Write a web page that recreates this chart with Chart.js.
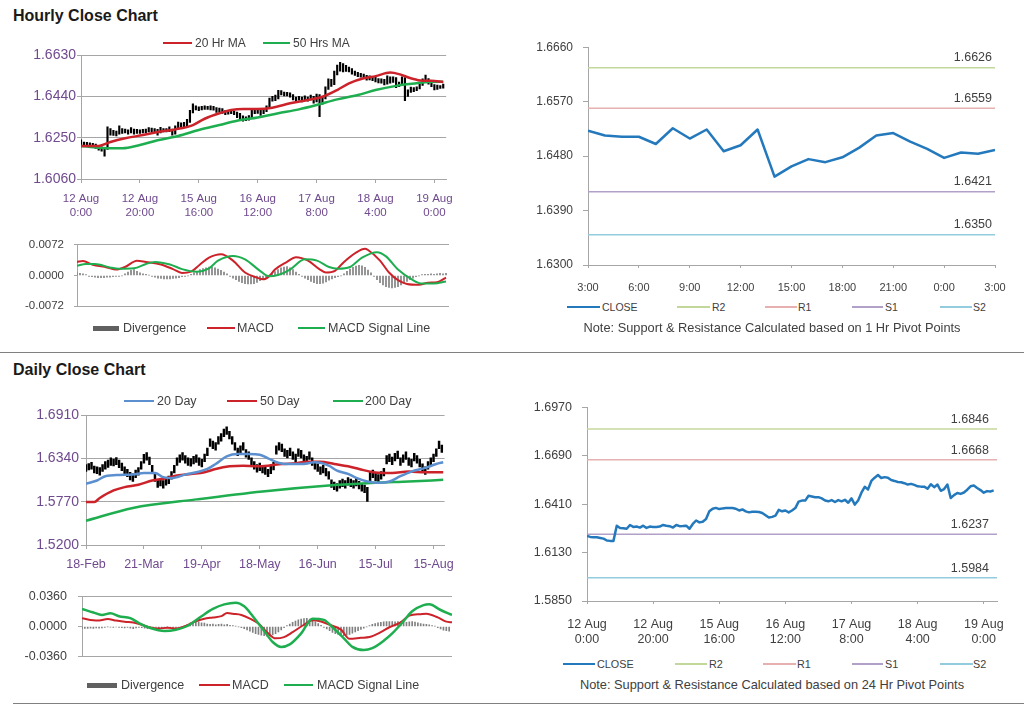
<!DOCTYPE html>
<html>
<head>
<meta charset="utf-8">
<script src="https://cdn.jsdelivr.net/npm/chart.js@4.4.1/dist/chart.umd.min.js"></script>
<style>
  body { margin: 0; background: #fff; font-family: "Liberation Sans", Arial, sans-serif; }
  #page { position: relative; width: 1024px; height: 706px; overflow: hidden; }
  canvas { position: absolute; }
  .txt { position: absolute; white-space: nowrap; color: #404040; line-height: 1.2; }
  .key { position: absolute; }
  .title { position: absolute; left: 13px; margin: 0; font-size: 16px; font-weight: bold; color: #1a1a1a; }
  .rule { position: absolute; height: 1px; background: #808080; }
</style>
</head>
<body>
<div id="page">
  <div class="title" style="top:7px">Hourly Close Chart</div>
  <div class="title" style="top:361px">Daily Close Chart</div>
  <div class="rule" style="left:0;top:352px;width:1024px"></div>
  <div class="rule" style="left:13px;top:703px;width:1011px"></div>

  <canvas id="hourPrice" width="462" height="200" style="left:0;top:30px"></canvas>
  <canvas id="hourMacd" width="462" height="95" style="left:0;top:228px"></canvas>
  <canvas id="hourPivot" width="524" height="270" style="left:500px;top:30px"></canvas>
  <canvas id="dayPrice" width="462" height="175" style="left:0;top:405px"></canvas>
  <canvas id="dayMacd" width="462" height="97" style="left:0;top:578px"></canvas>
  <canvas id="dayPivot" width="524" height="262" style="left:500px;top:390px"></canvas>
</div>
<script>
// ---- hourly data: 12 Aug 0:00 .. 19 Aug 3:00, one value per hour (weekend skipped)
var hourTickLabels = [['12 Aug', '0:00'], ['12 Aug', '20:00'], ['15 Aug', '16:00'], ['16 Aug', '12:00'],
                      ['17 Aug', '8:00'], ['18 Aug', '4:00'], ['19 Aug', '0:00']];

var hourlyClose = [
  1.6226, 1.6221, 1.6219, 1.6219, 1.6215, 1.6211, 1.6200, 1.6198, 1.6198, 1.6286,
  1.6273, 1.6271, 1.6268, 1.6290, 1.6279, 1.6281, 1.6275, 1.6286, 1.6273, 1.6281,
  1.6279, 1.6279, 1.6281, 1.6290, 1.6286, 1.6283, 1.6275, 1.6290, 1.6283, 1.6284,
  1.6286, 1.6268, 1.6296, 1.6316, 1.6305, 1.6309, 1.6324, 1.6369, 1.6384, 1.6389,
  1.6382, 1.6386, 1.6388, 1.6388, 1.6388, 1.6384, 1.6374, 1.6380, 1.6369, 1.6363,
  1.6367, 1.6367, 1.6365, 1.6359, 1.6346, 1.6333, 1.6337, 1.6344, 1.6378, 1.6369,
  1.6374, 1.6363, 1.6374, 1.6388, 1.6425, 1.6431, 1.6431, 1.6459, 1.6455, 1.6451,
  1.6451, 1.6444, 1.6432, 1.6427, 1.6434, 1.6423, 1.6434, 1.6427, 1.6436, 1.6419,
  1.6444, 1.6408, 1.6432, 1.6477, 1.6511, 1.6496, 1.6545, 1.6564, 1.6579, 1.6562,
  1.6567, 1.6564, 1.6550, 1.6545, 1.6539, 1.6537, 1.6532, 1.6524, 1.6528, 1.6522,
  1.6514, 1.6512, 1.6512, 1.6500, 1.6526, 1.6509, 1.6524, 1.6488, 1.6498, 1.6524,
  1.6446, 1.6463, 1.6475, 1.6470, 1.6478, 1.6494, 1.6514, 1.6518, 1.6504, 1.6492,
  1.6477, 1.6486, 1.6484, 1.6490
];
var hourlyLow = [
  1.6208, 1.6212, 1.6210, 1.6212, 1.6206, 1.6200, 1.6192, 1.6188, 1.6165, 1.6196,
  1.6262, 1.6260, 1.6258, 1.6266, 1.6270, 1.6272, 1.6266, 1.6272, 1.6266, 1.6270,
  1.6270, 1.6272, 1.6272, 1.6276, 1.6278, 1.6274, 1.6262, 1.6272, 1.6276, 1.6276,
  1.6278, 1.6262, 1.6266, 1.6292, 1.6298, 1.6300, 1.6302, 1.6320, 1.6364, 1.6378,
  1.6374, 1.6378, 1.6380, 1.6380, 1.6378, 1.6376, 1.6366, 1.6368, 1.6362, 1.6356,
  1.6358, 1.6360, 1.6356, 1.6342, 1.6336, 1.6326, 1.6328, 1.6330, 1.6340, 1.6360,
  1.6362, 1.6352, 1.6360, 1.6370, 1.6384, 1.6418, 1.6420, 1.6428, 1.6446, 1.6442,
  1.6442, 1.6436, 1.6424, 1.6418, 1.6422, 1.6414, 1.6420, 1.6418, 1.6424, 1.6408,
  1.6414, 1.6346, 1.6404, 1.6428, 1.6472, 1.6486, 1.6494, 1.6538, 1.6556, 1.6552,
  1.6554, 1.6552, 1.6542, 1.6536, 1.6530, 1.6528, 1.6522, 1.6514, 1.6516, 1.6512,
  1.6506, 1.6502, 1.6500, 1.6492, 1.6496, 1.6500, 1.6504, 1.6480, 1.6484, 1.6494,
  1.6420, 1.6440, 1.6458, 1.6462, 1.6466, 1.6474, 1.6490, 1.6506, 1.6496, 1.6484,
  1.6470, 1.6472, 1.6476, 1.6478
];
var hourlyHigh = [
  1.6240, 1.6230, 1.6228, 1.6226, 1.6224, 1.6220, 1.6214, 1.6208, 1.6206, 1.6300,
  1.6292, 1.6284, 1.6280, 1.6304, 1.6292, 1.6290, 1.6286, 1.6296, 1.6290, 1.6288,
  1.6286, 1.6288, 1.6290, 1.6296, 1.6294, 1.6292, 1.6288, 1.6298, 1.6292, 1.6292,
  1.6300, 1.6290, 1.6304, 1.6322, 1.6318, 1.6320, 1.6334, 1.6376, 1.6406, 1.6396,
  1.6392, 1.6394, 1.6396, 1.6394, 1.6396, 1.6394, 1.6388, 1.6386, 1.6384, 1.6374,
  1.6374, 1.6374, 1.6372, 1.6368, 1.6362, 1.6350, 1.6346, 1.6352, 1.6384, 1.6382,
  1.6380, 1.6378, 1.6382, 1.6396, 1.6432, 1.6440, 1.6446, 1.6468, 1.6466, 1.6460,
  1.6458, 1.6456, 1.6448, 1.6436, 1.6440, 1.6436, 1.6442, 1.6436, 1.6446, 1.6440,
  1.6450, 1.6448, 1.6440, 1.6484, 1.6520, 1.6518, 1.6556, 1.6584, 1.6596, 1.6590,
  1.6582, 1.6574, 1.6568, 1.6556, 1.6550, 1.6546, 1.6542, 1.6536, 1.6534, 1.6532,
  1.6528, 1.6522, 1.6520, 1.6518, 1.6534, 1.6530, 1.6530, 1.6526, 1.6506, 1.6530,
  1.6526, 1.6470, 1.6482, 1.6480, 1.6484, 1.6500, 1.6520, 1.6538, 1.6522, 1.6508,
  1.6494, 1.6492, 1.6490, 1.6496
];
// moving averages read at [hour index, value]
var ma20Hr = [[0, 1.6212], [6, 1.6212], [10, 1.6230], [15, 1.6247], [21, 1.6262], [26, 1.6276], [32, 1.6288],
  [38, 1.6308], [42, 1.6337], [47, 1.6362], [51, 1.6377], [55, 1.6382], [60, 1.6382], [65, 1.6388], [71, 1.6408],
  [77, 1.6423], [82, 1.6438], [87, 1.6469], [91, 1.6500], [96, 1.6523], [100, 1.6533], [105, 1.6549], [108, 1.6542],
  [112, 1.6523], [116, 1.6512], [119, 1.6512], [123, 1.6506]];
var ma50Hr = [[0, 1.6212], [6, 1.6204], [10, 1.6201], [14, 1.6201], [20, 1.6216], [26, 1.6238], [33, 1.6258],
  [40, 1.6285], [47, 1.6308], [53, 1.6328], [60, 1.6343], [67, 1.6362], [74, 1.6380], [80, 1.6400], [87, 1.6426],
  [94, 1.6446], [100, 1.6469], [107, 1.6488], [114, 1.6500], [118, 1.6506], [123, 1.6507]];
var macdHourly = [[0, 0.0032], [2, 0.0034], [5, 0.0026], [10, 0.0019], [13, 0.0014], [16, 0.0020], [20, 0.0035],
  [23, 0.0032], [28, 0.0026], [32, 0.0015], [35, 0.0006], [38, 0.0009], [41, 0.0026], [44, 0.0042], [48, 0.0050],
  [52, 0.0035], [56, 0.0007], [60, -0.0005], [62, -0.0009], [64, -0.0002], [66, 0.0014], [70, 0.0032], [73, 0.0043],
  [77, 0.0035], [81, 0.0014], [83, 0.0007], [86, 0.0011], [89, 0.0032], [93, 0.0054], [96, 0.0063], [97, 0.0060],
  [101, 0.0035], [104, 0.0007], [107, -0.0011], [110, -0.0020], [114, -0.0022], [117, -0.0017], [120, -0.0016],
  [123, -0.0005]];
var signalHourly = [[0, 0.0023], [3, 0.0027], [6, 0.0027], [11, 0.0019], [14, 0.0016], [19, 0.0017], [23, 0.0027],
  [26, 0.0032], [31, 0.0026], [35, 0.0015], [40, 0.0009], [44, 0.0017], [47, 0.0035], [52, 0.0046], [56, 0.0038],
  [61, 0.0011], [64, -0.0002], [67, 0.0001], [71, 0.0014], [76, 0.0038], [80, 0.0035], [84, 0.0020], [87, 0.0016],
  [91, 0.0020], [95, 0.0042], [100, 0.0055], [103, 0.0045], [107, 0.0014], [112, -0.0011], [115, -0.0019],
  [119, -0.0019], [123, -0.0014]];
var divergenceHourly = [
  0.0006, 0.0005, 0.0004, 0.0002,
  -0.0002, -0.0003, -0.0004, -0.0005, -0.0005, -0.0005, -0.0004, -0.0004, -0.0003, -0.0002, -0.0002, -0.0001,
  0.0004, 0.0008, 0.0012, 0.0014, 0.0010, 0.0006, 0.0004, 0.0003, 0.0001,
  -0.0002, -0.0004, -0.0006, -0.0007, -0.0008, -0.0008, -0.0008, -0.0007, -0.0006, -0.0005, -0.0003, -0.0002, -0.0001,
  0.0003, 0.0006, 0.0010, 0.0014, 0.0016, 0.0018, 0.0020, 0.0020, 0.0018, 0.0015, 0.0012, 0.0008, 0.0004,
  -0.0002, -0.0006, -0.0010, -0.0014, -0.0017, -0.0019, -0.0020, -0.0020, -0.0019, -0.0016, -0.0012, -0.0008, -0.0004, -0.0001,
  0.0004, 0.0009, 0.0014, 0.0018, 0.0020, 0.0021, 0.0018, 0.0014, 0.0008, 0.0003,
  -0.0002, -0.0006, -0.0010, -0.0014, -0.0017, -0.0019, -0.0019, -0.0018, -0.0015, -0.0011, -0.0008, -0.0005, -0.0003, -0.0001,
  0.0004, 0.0010, 0.0015, 0.0019, 0.0022, 0.0024, 0.0023, 0.0019, 0.0013, 0.0006,
  -0.0002, -0.0010, -0.0017, -0.0022, -0.0026, -0.0028, -0.0029, -0.0028, -0.0026, -0.0022, -0.0018, -0.0014, -0.0010, -0.0006, -0.0003, -0.0001,
  0.0002, 0.0003, 0.0003, 0.0004, 0.0003, 0.0004, 0.0005, 0.0004, 0.0005
];

// last 25 hours (18 Aug 3:00 .. 19 Aug 3:00) with 1 Hr pivots
var pivotHours = ['3:00', '4:00', '5:00', '6:00', '7:00', '8:00', '9:00', '10:00', '11:00', '12:00', '13:00', '14:00',
  '15:00', '16:00', '17:00', '18:00', '19:00', '20:00', '21:00', '22:00', '23:00', '0:00', '1:00', '2:00', '3:00'];
var pivotNames = ['R2', 'R1', 'S1', 'S2'];
var pivotHourly = [1.6626, 1.6559, 1.6421, 1.6350];
var pivotDaily = [1.6846, 1.6668, 1.6237, 1.5984];

// ---- daily data: 18-Feb .. 19-Aug
var dayTickLabels = ['18-Feb', '21-Mar', '19-Apr', '18-May', '16-Jun', '15-Jul', '15-Aug'];
var dailyLow = [
  1.6170, 1.6190, 1.6200, 1.6150, 1.6140, 1.6120, 1.6170, 1.6200, 1.6225, 1.6250,
  1.6245, 1.6260, 1.6220, 1.6180, 1.6130, 1.6100, 1.6060, 1.6040, 1.6090, 1.6120,
  1.6200, 1.6280, 1.6320, 1.6260, 1.6150, 1.6040, 1.5960, 1.5980, 1.5950, 1.5990,
  1.6010, 1.6070, 1.6150, 1.6250, 1.6290, 1.6320, 1.6280, 1.6250, 1.6240, 1.6270,
  1.6290, 1.6250, 1.6230, 1.6300, 1.6380, 1.6500, 1.6470, 1.6450, 1.6530, 1.6570,
  1.6630, 1.6660, 1.6600, 1.6530, 1.6450, 1.6380, 1.6410, 1.6450, 1.6360, 1.6330,
  1.6250, 1.6200, 1.6160, 1.6180, 1.6150, 1.6130, 1.6100, 1.6140, 1.6190, 1.6400,
  1.6450, 1.6430, 1.6370, 1.6350, 1.6380, 1.6330, 1.6300, 1.6370, 1.6350, 1.6290,
  1.6270, 1.6330, 1.6250, 1.6200, 1.6170, 1.6130, 1.6150, 1.6110, 1.6070, 1.5960,
  1.5930, 1.5910, 1.5950, 1.5970, 1.5950, 1.5990, 1.5970, 1.5950, 1.5980, 1.5940,
  1.5910, 1.5890, 1.5775, 1.6050, 1.6090, 1.6050, 1.6030, 1.6070, 1.6110, 1.6270,
  1.6300, 1.6260, 1.6310, 1.6340, 1.6250, 1.6290, 1.6330, 1.6250, 1.6230, 1.6310,
  1.6280, 1.6230, 1.6170, 1.6130, 1.6200, 1.6250, 1.6300, 1.6370, 1.6470, 1.6420
];
var dailyHigh = [
  1.6260, 1.6275, 1.6290, 1.6240, 1.6230, 1.6220, 1.6260, 1.6300, 1.6320, 1.6350,
  1.6335, 1.6355, 1.6320, 1.6280, 1.6230, 1.6200, 1.6160, 1.6140, 1.6190, 1.6220,
  1.6300, 1.6395, 1.6420, 1.6360, 1.6250, 1.6140, 1.6060, 1.6080, 1.6050, 1.6090,
  1.6110, 1.6170, 1.6250, 1.6350, 1.6390, 1.6420, 1.6380, 1.6350, 1.6340, 1.6370,
  1.6390, 1.6350, 1.6330, 1.6400, 1.6480, 1.6600, 1.6570, 1.6550, 1.6630, 1.6670,
  1.6730, 1.6760, 1.6700, 1.6630, 1.6550, 1.6480, 1.6510, 1.6550, 1.6460, 1.6430,
  1.6350, 1.6300, 1.6260, 1.6280, 1.6250, 1.6230, 1.6200, 1.6240, 1.6290, 1.6510,
  1.6550, 1.6530, 1.6470, 1.6450, 1.6480, 1.6430, 1.6400, 1.6470, 1.6450, 1.6390,
  1.6370, 1.6430, 1.6350, 1.6300, 1.6270, 1.6230, 1.6250, 1.6210, 1.6170, 1.6060,
  1.6030, 1.6010, 1.6050, 1.6070, 1.6050, 1.6090, 1.6070, 1.6050, 1.6080, 1.6040,
  1.6010, 1.5990, 1.5960, 1.6160, 1.6190, 1.6150, 1.6130, 1.6170, 1.6210, 1.6380,
  1.6400, 1.6360, 1.6410, 1.6440, 1.6350, 1.6390, 1.6430, 1.6350, 1.6330, 1.6410,
  1.6380, 1.6330, 1.6270, 1.6230, 1.6300, 1.6350, 1.6400, 1.6470, 1.6570, 1.6520
];
var ma20Day = [[0, 1.6007], [4, 1.6051], [7, 1.6108], [12, 1.6125], [17, 1.6129], [21, 1.6151], [25, 1.6151],
  [28, 1.6095], [31, 1.6081], [36, 1.6129], [40, 1.6160], [44, 1.6203], [47, 1.6269], [51, 1.6369], [55, 1.6400],
  [59, 1.6400], [63, 1.6391], [66, 1.6343], [70, 1.6282], [73, 1.6269], [78, 1.6269], [83, 1.6291], [88, 1.6247],
  [91, 1.6182], [95, 1.6138], [98, 1.6086], [102, 1.6038], [106, 1.6021], [110, 1.6038], [114, 1.6108],
  [118, 1.6169], [123, 1.6217], [127, 1.6269], [129.5, 1.6291]];
var ma50Day = [[0, 1.5767], [3, 1.5767], [5, 1.5820], [10, 1.5920], [14, 1.5964], [19, 1.5994], [24, 1.6051],
  [29, 1.6081], [33, 1.6116], [38, 1.6138], [43, 1.6160], [47, 1.6203], [52, 1.6238], [57, 1.6247], [62, 1.6238],
  [66, 1.6247], [71, 1.6269], [76, 1.6278], [80, 1.6300], [85, 1.6300], [90, 1.6269], [95, 1.6238], [99, 1.6203],
  [104, 1.6160], [108, 1.6151], [111, 1.6151], [117, 1.6169], [123, 1.6160], [129.5, 1.6160]];
var ma200Day = [[0, 1.5519], [17, 1.5689], [40, 1.5802], [64, 1.5907], [88, 1.5985], [105, 1.6021],
  [117, 1.6038], [129.5, 1.6060]];
var macdDaily = [[0, 0.0100], [4, 0.0074], [6, 0.0071], [9, 0.0089], [12, 0.0071], [15, 0.0056], [18, 0.0047],
  [21, 0.0021], [24, -0.0012], [27, -0.0024], [30, -0.0015], [33, -0.0024], [36, 0.0000], [39, 0.0050],
  [43, 0.0094], [46, 0.0109], [49, 0.0124], [51, 0.0162], [53, 0.0153], [56, 0.0139], [59, 0.0094], [62, 0.0035],
  [65, -0.0068], [68, -0.0142], [71, -0.0127], [74, -0.0068], [78, 0.0021], [81, 0.0074], [84, 0.0059],
  [87, 0.0021], [91, -0.0038], [94, -0.0148], [98, -0.0136], [101, -0.0127], [105, -0.0068], [108, -0.0009],
  [112, 0.0050], [115, 0.0130], [119, 0.0148], [121, 0.0153], [125, 0.0109], [128, 0.0059], [130, 0.0050]];
var signalDaily = [[0, 0.0212], [4, 0.0168], [7, 0.0139], [10, 0.0159], [13, 0.0124], [17, 0.0100], [20, 0.0041],
  [24, -0.0018], [29, -0.0053], [33, -0.0038], [37, 0.0006], [42, 0.0124], [46, 0.0212], [50, 0.0266],
  [54, 0.0286], [57, 0.0242], [60, 0.0124], [64, -0.0053], [67, -0.0186], [70, -0.0245], [73, -0.0215],
  [77, -0.0083], [81, 0.0094], [85, 0.0080], [88, -0.0009], [92, -0.0142], [95, -0.0245], [99, -0.0283],
  [102, -0.0260], [106, -0.0171], [109, -0.0083], [113, 0.0065], [116, 0.0183], [120, 0.0257], [122, 0.0266],
  [126, 0.0198], [130, 0.0139]];
var divergenceDaily = [
  -0.0025, -0.0022, -0.0024, -0.0020, -0.0022, -0.0018, -0.0020, -0.0016, -0.0010,
  -0.0005, -0.0008, -0.0012, -0.0006, -0.0010, -0.0015, -0.0018, -0.0012, -0.0020, -0.0025, -0.0018, -0.0012,
  -0.0015, -0.0020, -0.0025, -0.0018, -0.0012, -0.0008, -0.0015, -0.0020, -0.0010, -0.0005, -0.0012, -0.0018, -0.0010, -0.0006, -0.0004, 0.0010,
  0.0025, 0.0040, 0.0050, 0.0060, 0.0055, 0.0045, 0.0040, 0.0030, 0.0025, 0.0030, 0.0020, 0.0025, 0.0030, 0.0020, 0.0025, 0.0015,
  0.0010, 0.0005, -0.0005, -0.0015, -0.0025,
  -0.0040, -0.0055, -0.0070, -0.0085, -0.0095, -0.0105, -0.0110, -0.0115, -0.0110, -0.0100, -0.0085, -0.0065, -0.0040, -0.0015, 0.0010,
  0.0030, 0.0050, 0.0065, 0.0080, 0.0090, 0.0095, 0.0098, 0.0090, 0.0075, 0.0055, 0.0035, 0.0015,
  -0.0010, -0.0030, -0.0050, -0.0070, -0.0085, -0.0095, -0.0105, -0.0110, -0.0105, -0.0095, -0.0080, -0.0065, -0.0050, -0.0035, -0.0020, -0.0005,
  0.0010, 0.0025, 0.0035, 0.0045, 0.0050, 0.0055, 0.0058, 0.0060, 0.0058, 0.0055, 0.0058, 0.0060, 0.0055, 0.0050, 0.0055, 0.0058, 0.0052, 0.0045,
  0.0035, 0.0030, 0.0025, 0.0020, 0.0012, 0.0005,
  -0.0015, -0.0030, -0.0045, -0.0050, -0.0055
];

// ---- styles
var FONT = '"Liberation Sans", Arial, sans-serif';
var RED = '#cc2229', GREEN = '#1fae4f', BLUE = '#2479bd', LIGHTBLUE = '#5b8fcf', DIVGRAY = '#808080';
var PIVOT_COLORS = ['#c4d79b', '#e6b0b0', '#b1a0c7', '#93cddd'];
var AXIS = '#a6a6a6', PURPLE = '#6f4a8e', DARK = '#404040';

function pts(pairs) { return pairs.map(function (p) { return { x: p[0], y: p[1] }; }); }
function bars(lows, highs) { return lows.map(function (lo, i) { return { x: i, y: [lo, highs[i]] }; }); }
function hist(vals) { return vals.map(function (v, i) { return { x: i, y: v }; }); }
// smooth curves for averages / MACD, straight segments for the close series
function line(data, color, width, straight) {
  var ds = { type: 'line', data: data, borderColor: color, borderWidth: width, pointRadius: 0, order: 0 };
  if (straight) { ds.tension = 0; ds.borderJoinStyle = 'round'; }
  else ds.cubicInterpolationMode = 'monotone';
  return ds;
}
function flat(v, x0, x1, color) {
  return { type: 'line', data: [{ x: x0, y: v }, { x: x1, y: v }], borderColor: color, borderWidth: 1.5,
           pointRadius: 0, order: 1 };
}

function yAxis(o) {
  return {
    min: o.min, max: o.max,
    ticks: { stepSize: o.step, padding: o.pad, color: o.color || DARK, font: { family: FONT, size: o.size },
             callback: function (v) { return v.toFixed(4); } },
    grid: { display: true, drawOnChartArea: o.grid !== false, tickLength: o.tick, tickColor: AXIS,
            color: o.zeroOff ? function (c) { return c.tick.value === 0 ? 'rgba(0,0,0,0)' : AXIS; } : AXIS },
    border: { color: AXIS },
    afterFit: function (s) { s.width = o.width; }
  };
}
function xAxis(o) {
  if (o.hidden) return { type: 'linear', display: false, min: o.min, max: o.max, offset: false };
  return {
    type: 'linear', min: o.min, max: o.max, offset: false,
    ticks: { stepSize: o.step, autoSkip: false, maxRotation: 0, includeBounds: false, padding: o.pad,
             color: o.color || DARK, font: { family: FONT, size: o.size }, callback: o.label },
    grid: { drawOnChartArea: false, offset: false, tickLength: o.tick, tickColor: AXIS },
    border: { color: AXIS },
    afterFit: function (s) { s.height = o.height; }
  };
}
function options(pad, x, y, extra) {
  var plugins = { legend: { display: false }, tooltip: { enabled: false } };
  if (extra) plugins.pivotLabels = extra;
  return { responsive: false, animation: false, events: [], layout: { padding: pad },
           plugins: plugins, scales: { x: x, y: y } };
}

// writes the pivot level above each horizontal line, at the right edge
var pivotLabels = {
  id: 'pivotLabels',
  afterDatasetsDraw: function (chart, args, opts) {
    var ctx = chart.ctx, area = chart.chartArea, y = chart.scales.y;
    ctx.save();
    ctx.font = opts.size + 'px ' + FONT;
    ctx.fillStyle = DARK;
    ctx.textAlign = 'right';
    ctx.textBaseline = 'middle';
    opts.values.forEach(function (v) {
      ctx.fillText(v.toFixed(4), area.right - opts.inset, y.getPixelForValue(v) - opts.gap);
    });
    ctx.restore();
  }
};

// ---- hourly price with moving averages
new Chart(document.getElementById('hourPrice'), {
  type: 'bar',
  data: { datasets: [
    line(pts(ma20Hr), RED, 2.5),
    line(pts(ma50Hr), GREEN, 2.5),
    { type: 'bar', data: bars(hourlyLow, hourlyHigh), backgroundColor: '#000', barThickness: 1.5, order: 2 }
  ] },
  options: options({ top: 25, right: 12 },
    xAxis({ min: 0, max: 124, step: 20, pad: 9, tick: 4, size: 11.5, color: PURPLE, height: 51,
            label: function (v) { return hourTickLabels[v / 20]; } }),
    yAxis({ min: 1.6060, max: 1.6630, step: 0.019, pad: 1, tick: 4, size: 14, color: PURPLE, width: 81 }))
});

// ---- hourly MACD
new Chart(document.getElementById('hourMacd'), {
  type: 'bar',
  data: { datasets: [
    line(pts(signalHourly), GREEN, 2),
    line(pts(macdHourly), RED, 2),
    { type: 'bar', data: hist(divergenceHourly), backgroundColor: DIVGRAY, barThickness: 1, order: 2 }
  ] },
  options: options({ top: 9, right: 13, bottom: 9 },
    xAxis({ hidden: true, min: 0, max: 124 }),
    yAxis({ min: -0.0072, max: 0.0072, step: 0.0072, pad: 10, tick: 3, size: 11.5, width: 77, zeroOff: true }))
});

// ---- last 24 hours with 1 Hr pivots
var hourPivotSets = [line(hourlyClose.slice(99).map(function (v, i) { return { x: i, y: v }; }), BLUE, 2.5, true)];
pivotHourly.forEach(function (v, k) { hourPivotSets.push(flat(v, 0, 24, PIVOT_COLORS[k])); });
new Chart(document.getElementById('hourPivot'), {
  type: 'line',
  data: { datasets: hourPivotSets },
  plugins: [pivotLabels],
  options: options({ top: 17, right: 29 },
    xAxis({ min: 0, max: 24, step: 3, pad: 13, tick: 3, size: 11, height: 35,
            label: function (v) { return pivotHours[v]; } }),
    yAxis({ min: 1.6300, max: 1.6660, step: 0.009, pad: 10, tick: 5, size: 12, width: 88, grid: false }),
    { values: pivotHourly, size: 12.5, gap: 10, inset: 3 })
});

// ---- daily price with moving averages
new Chart(document.getElementById('dayPrice'), {
  type: 'bar',
  data: { datasets: [
    line(pts(ma20Day), LIGHTBLUE, 2.5),
    line(pts(ma50Day), RED, 2.5),
    line(pts(ma200Day), GREEN, 2.5),
    { type: 'bar', data: bars(dailyLow, dailyHigh), backgroundColor: '#000', barThickness: 1.8, order: 2 }
  ] },
  options: options({ top: 9, right: 10 },
    xAxis({ min: 0, max: 130, step: 21, pad: 8, tick: 4, size: 12.5, color: PURPLE, height: 35,
            label: function (v) { return dayTickLabels[v / 21]; } }),
    yAxis({ min: 1.5200, max: 1.6910, step: 0.057, pad: 2, tick: 5, size: 14, color: PURPLE, width: 86 }))
});

// ---- daily MACD
new Chart(document.getElementById('dayMacd'), {
  type: 'bar',
  data: { datasets: [
    line(pts(signalDaily), GREEN, 2.5),
    line(pts(macdDaily), RED, 2),
    { type: 'bar', data: hist(divergenceDaily), backgroundColor: DIVGRAY, barThickness: 1, order: 2 }
  ] },
  options: options({ top: 9, right: 10, bottom: 7 },
    xAxis({ hidden: true, min: 0, max: 130 }),
    yAxis({ min: -0.0360, max: 0.0360, step: 0.036, pad: 11, tick: 4, size: 12.5, width: 82, zeroOff: true }))
});

// ---- hourly close with 24 Hr pivots
var dayPivotSets = [line(hourlyClose.map(function (v, i) { return { x: i, y: v }; }), BLUE, 2.5, true)];
pivotDaily.forEach(function (v, k) { dayPivotSets.push(flat(v, 0, 124, PIVOT_COLORS[k])); });
new Chart(document.getElementById('dayPivot'), {
  type: 'line',
  data: { datasets: dayPivotSets },
  plugins: [pivotLabels],
  options: options({ top: 12, right: 27 },
    xAxis({ min: 0, max: 124, step: 20, pad: 13, tick: 3, size: 12.5, height: 51,
            label: function (v) { return hourTickLabels[v / 20]; } }),
    yAxis({ min: 1.5850, max: 1.6970, step: 0.028, pad: 10, tick: 5, size: 12.5, width: 87, grid: false }),
    { values: pivotDaily, size: 12.5, gap: 9.5, inset: 8 })
});

// ---- legends and notes (html text)
var page = document.getElementById('page');
function text(str, x, y, size, center) {
  var d = document.createElement('div');
  d.className = 'txt';
  d.textContent = str;
  d.style.fontSize = size + 'px';
  d.style.top = (y - 0.59 * size) + 'px';
  if (center) { d.style.left = (x - 300) + 'px'; d.style.width = '600px'; d.style.textAlign = 'center'; }
  else d.style.left = x + 'px';
  page.appendChild(d);
}
function key(x1, x2, y, h, color) {
  var d = document.createElement('div');
  d.className = 'key';
  d.style.left = x1 + 'px'; d.style.width = (x2 - x1) + 'px';
  d.style.top = (y - h / 2) + 'px'; d.style.height = h + 'px';
  d.style.background = color;
  page.appendChild(d);
}
// [line start, line end, y, thickness, colour, text x, label, font size]
var legendItems = [
  [163, 192, 43, 2, RED, 195, '20 Hr MA', 12],
  [263, 290, 43, 2, GREEN, 293, '50 Hrs MA', 12],
  [93, 119, 328, 5, '#606060', 123, 'Divergence', 12.5],
  [207, 235, 328, 2, RED, 237, 'MACD', 12.5],
  [298, 325, 328, 2, GREEN, 328, 'MACD Signal Line', 12.5],
  [567, 600, 307, 2.5, BLUE, 602, 'CLOSE', 10.5],
  [677, 710, 307, 1.5, PIVOT_COLORS[0], 712, pivotNames[0], 10.5],
  [765, 797, 307, 1.5, PIVOT_COLORS[1], 798, pivotNames[1], 10.5],
  [852, 883, 307, 1.5, PIVOT_COLORS[2], 885, pivotNames[2], 10.5],
  [940, 972, 307, 1.5, PIVOT_COLORS[3], 973, pivotNames[3], 10.5],
  [124, 154, 401, 2, LIGHTBLUE, 157, '20 Day', 12.5],
  [227, 257, 401, 2, RED, 260, '50 Day', 12.5],
  [333, 363, 401, 2, GREEN, 365, '200 Day', 12.5],
  [87, 117, 685, 5, '#606060', 121, 'Divergence', 12.5],
  [199, 230, 685, 2, RED, 232, 'MACD', 12.5],
  [284, 313, 685, 2, GREEN, 317, 'MACD Signal Line', 12.5],
  [563, 595, 664, 2.5, BLUE, 597, 'CLOSE', 10.8],
  [675, 707, 664, 1.5, PIVOT_COLORS[0], 709, pivotNames[0], 10.8],
  [763, 796, 664, 1.5, PIVOT_COLORS[1], 797, pivotNames[1], 10.8],
  [852, 883, 664, 1.5, PIVOT_COLORS[2], 885, pivotNames[2], 10.8],
  [940, 973, 664, 1.5, PIVOT_COLORS[3], 973, pivotNames[3], 10.8]
];
legendItems.forEach(function (it) {
  key(it[0], it[1], it[2], it[3], it[4]);
  text(it[6], it[5], it[2], it[7]);
});
text('Note: Support & Resistance Calculated based on 1 Hr Pivot Points', 772, 328, 12.8, true);
text('Note: Support & Resistance Calculated based on 24 Hr Pivot Points', 772, 685, 12.8, true);
</script>
</body>
</html>
